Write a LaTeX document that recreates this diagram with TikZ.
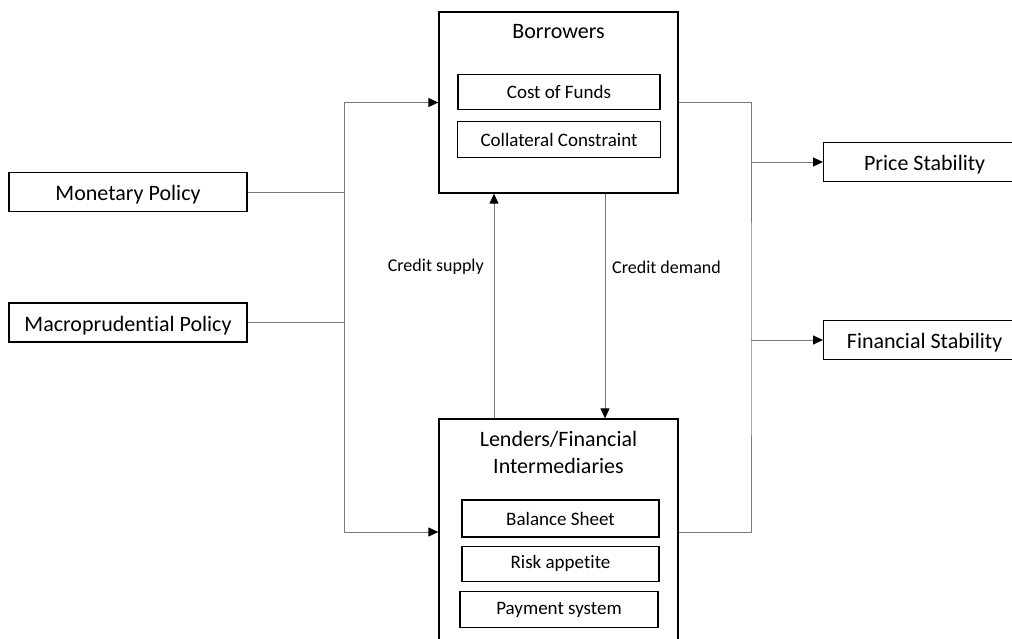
\documentclass[tikz,border=0pt]{standalone}
\usepackage{fontspec}
\setmainfont{Carlito}[Ligatures=NoCommon]
\usetikzlibrary{arrows.meta, positioning}
\definecolor{link-grey}{HTML}{7A7A7A}

\begin{document}
\begin{tikzpicture}[x=1pt, y=-1pt,
    box/.style={draw, line width=1.3pt, minimum height=39pt, inner sep=0pt, font=\fontsize{22}{27}\selectfont},
    boxtext/.style={yshift=-3pt, inner sep=0pt, font=\fontsize{22}{27}\selectfont},
    bigbox/.style={draw, line width=1.3pt, minimum width=239pt, inner sep=0pt},
    title/.style={align=center, inner sep=0pt, font=\fontsize{22}{27}\selectfont},
    subbox/.style={draw, line width=1.3pt, minimum height=35pt, inner sep=0pt, font=\fontsize{19}{23}\selectfont},
    tag/.style={inner sep=0pt, yshift=-2pt, font=\fontsize{18}{22}\selectfont},
    link/.style={draw=link-grey, line width=1pt},
    arr/.style={link, -{Triangle[color=black, length=10pt, width=9pt]}}
]
    \useasboundingbox (0,0) rectangle (1012,638);

    % policies
    \node (monetary) [box, minimum width=238pt] at (128,192) {};
    \node (macro) [box, minimum width=238pt] at (128,322.5) {};
    \node (monetarytext) [boxtext] at (monetary) {Monetary Policy};
    \node (macrotext) [boxtext] at (macro) {Macroprudential Policy};

    % borrowers
    \node (borrow) [bigbox, minimum height=181pt] at (558.5,102.5) {};
    \node (borrowtitle) [title] at (558.5,32) {Borrowers};
    \node (cost) [subbox, minimum width=202pt] at (559,92) {Cost of Funds};
    \node (collat) [subbox, minimum width=203pt, minimum height=36pt, below=11pt of cost] {Collateral Constraint};

    % lenders
    \node (lend) [bigbox, minimum height=226pt] at (558.5,532) {};
    \node (lendtitle) [title] at (558.5,452.5) {Lenders/Financial\\Intermediaries};
    \node (balance) [subbox, minimum width=197pt, minimum height=37pt] at (560.5,518.5) {Balance Sheet};
    \node (risk) [subbox, minimum width=197pt, below=8pt of balance] {Risk appetite};
    \node (payment) [subbox, minimum width=198pt, minimum height=36pt, below=9pt of risk, xshift=-1.5pt] {Payment system};

    % goals
    \node (price) [box, minimum width=202pt, anchor=west] at (823,162) {};
    \node (fin) [box, minimum width=202pt, anchor=west] at (823,340) {};
    \node (pricetext) [boxtext] at (price) {Price Stability};
    \node (fintext) [boxtext] at (fin) {Financial Stability};

    \coordinate (lbus) at (344,322.5);
    \coordinate (rbus) at (751,340);
    \coordinate (supply) at (494,265);
    \coordinate (demand) at (605,265);

    \draw [link] (monetary) -- (monetary -| lbus);
    \draw [link] (macro) -- (macro -| lbus);
    \draw [arr] (lend.west -| lbus) |- (borrow.west);
    \draw [arr] (borrow.west -| lbus) |- (lend.west);

    \draw [link] (borrow.east) -| (rbus) |- (lend.east);
    \draw [arr] (price.west -| rbus) -- (price.west);
    \draw [arr] (fin.west -| rbus) -- (fin.west);

    \draw [arr] (lend.north -| supply) -- (borrow.south -| supply);
    \draw [arr] (borrow.south -| demand) -- (lend.north -| demand);
    \node (supplytag) [tag, left=10pt of supply] {Credit supply};
    \node (demandtag) [tag, right=7pt of demand] {Credit demand};
\end{tikzpicture}
\end{document}
